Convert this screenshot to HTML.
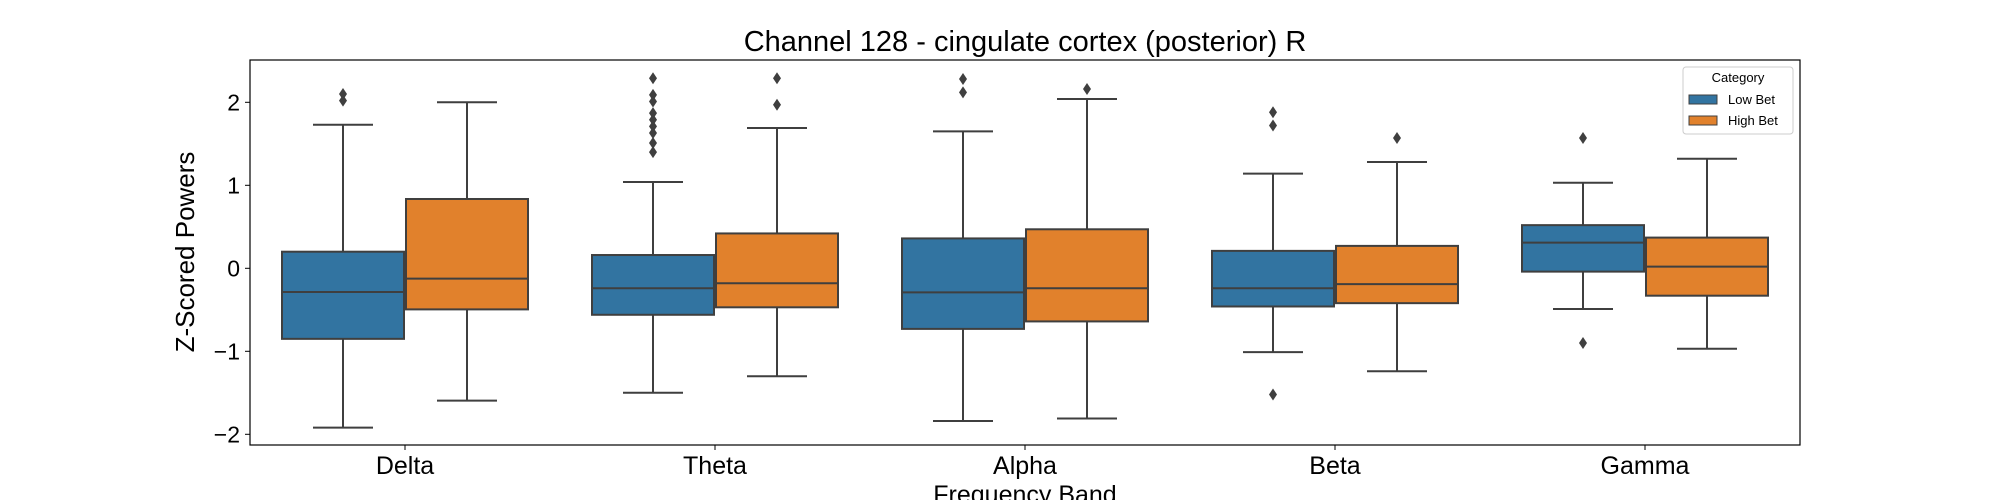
<!DOCTYPE html>
<html><head><meta charset="utf-8"><style>
html,body{margin:0;padding:0;background:#fff;}
svg{display:block;font-family:"Liberation Sans","DejaVu Sans",sans-serif;}
</style></head><body>
<svg id="chart" width="2000" height="500" viewBox="0 0 2000 500">
<text x="1025" y="51" font-size="29" text-anchor="middle" fill="#000">Channel 128 - cingulate cortex (posterior) R</text>
<text transform="translate(194,252) rotate(-90)" font-size="26" text-anchor="middle" fill="#000">Z-Scored Powers</text>
<text x="1025" y="503" font-size="25" text-anchor="middle" fill="#000">Frequency Band</text>
<g id="plot"></g>
<rect x="250" y="60" width="1550" height="385" fill="none" stroke="#000" stroke-width="1.2"/>
<g>
<rect x="1683" y="67" width="110" height="67" rx="3" fill="#fff" fill-opacity="0.8" stroke="#ccc"/>
<text x="1738" y="82" font-size="13" text-anchor="middle">Category</text>
<rect x="1689" y="95" width="28" height="9" fill="#3274a1" stroke="#3f3f3f"/>
<text x="1728" y="104" font-size="13">Low Bet</text>
<rect x="1689" y="116" width="28" height="9" fill="#e1812c" stroke="#3f3f3f"/>
<text x="1728" y="125" font-size="13">High Bet</text>
</g>
</svg>
<script>
const categories = ["Delta","Theta","Alpha","Beta","Gamma"];
const yTicks = [-2,-1,0,1,2];
const lowQ1 = [-0.85,-0.56,-0.73,-0.46,-0.04];
const lowMed = [-0.285,-0.24,-0.29,-0.24,0.31];
const lowQ3 = [0.2,0.16,0.36,0.21,0.52];
const lowWhLo = [-1.92,-1.5,-1.84,-1.01,-0.49];
const lowWhHi = [1.73,1.04,1.65,1.14,1.03];
const lowOut = [[2.02,2.1],[2.29,2.09,2.01,1.87,1.79,1.71,1.63,1.51,1.40],[2.28,2.12],[1.88,1.72,-1.52],[1.57,-0.9]];
const highQ1 = [-0.495,-0.47,-0.64,-0.42,-0.33];
const highMed = [-0.125,-0.18,-0.24,-0.19,0.02];
const highQ3 = [0.835,0.42,0.47,0.27,0.37];
const highWhLo = [-1.595,-1.3,-1.81,-1.24,-0.97];
const highWhHi = [2.0,1.69,2.04,1.28,1.32];
const highOut = [[],[2.29,1.97],[2.16],[1.57],[]];

const NS="http://www.w3.org/2000/svg";
const g=document.getElementById('plot');
const y=v=>268.3-v*83;
const xc=i=>250+155+i*310;
function mk(t,a){const e=document.createElementNS(NS,t);for(const k in a)e.setAttribute(k,a[k]);g.appendChild(e);return e;}
yTicks.forEach(t=>{
  const l=mk('line',{x1:245,x2:250,y1:y(t),y2:y(t),stroke:'#000','stroke-width':1});
  
  
  const tx=mk('text',{x:240,y:y(t)+8,'font-size':23,'text-anchor':'end'});
  tx.textContent=t<0?'\u2212'+Math.abs(t):String(t);
  
  
});
categories.forEach((c,i)=>{
  const l=mk('line',{x1:xc(i),x2:xc(i),y1:445,y2:450,stroke:'#000','stroke-width':1});
  
  
  const tx=mk('text',{x:xc(i),y:474,'font-size':25,'text-anchor':'middle'});
  tx.textContent=c;
  
  
});
const series=[
 {name:'low',col:'#3274a1',q1:lowQ1,md:lowMed,q3:lowQ3,lo:lowWhLo,hi:lowWhHi,out:lowOut,off:-62},
 {name:'high',col:'#e1812c',q1:highQ1,md:highMed,q3:highQ3,lo:highWhLo,hi:highWhHi,out:highOut,off:62}];
const st='#3f3f3f';
series.forEach(s=>{
  categories.forEach((c,i)=>{
    const cx=xc(i)+s.off, w=122;
    const ln=(a,b,c2,d,nm)=>{const e=mk('line',{x1:a,y1:b,x2:c2,y2:d,stroke:st,'stroke-width':2});
      
      };
    ln(cx,y(s.q3[i]),cx,y(s.hi[i]),'whisker-upper');
    ln(cx,y(s.q1[i]),cx,y(s.lo[i]),'whisker-lower');
    ln(cx-30,y(s.hi[i]),cx+30,y(s.hi[i]),'cap-upper');
    ln(cx-30,y(s.lo[i]),cx+30,y(s.lo[i]),'cap-lower');
    const b=mk('rect',{x:cx-w/2,y:y(s.q3[i]),width:w,height:y(s.q1[i])-y(s.q3[i]),fill:s.col,stroke:st,'stroke-width':2});
    
    
    ln(cx-w/2,y(s.md[i]),cx+w/2,y(s.md[i]),'median-line');
    s.out[i].forEach(v=>{
      const p=mk('path',{d:`M${cx} ${y(v)-6}L${cx+4} ${y(v)}L${cx} ${y(v)+6}L${cx-4} ${y(v)}Z`,fill:st});
      
      
    });
  });
});
</script>
</body></html>
